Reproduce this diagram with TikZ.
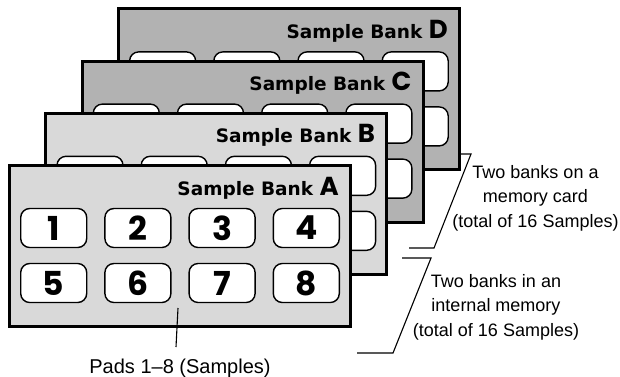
\documentclass[tikz,border=0pt]{standalone}
\usepackage{fontspec}
\setmainfont{Liberation Sans}
\newfontfamily\bankfont{DejaVu Sans}
\newfontfamily\padfont{Poppins}
\usepackage{tikz}
\usetikzlibrary{calc, positioning}
\definecolor{lightbank}{gray}{0.85}
\definecolor{darkbank}{gray}{0.70}

\begin{document}
\begin{tikzpicture}[
    x=1pt, y=-1pt,
    every node/.style={font=\fontsize{18}{24.5}\selectfont},
    bank/.style={draw, line width=3pt, minimum width=341pt, minimum height=161pt,
                 inner sep=0pt},
    pad/.style={draw, fill=white, line width=1.4pt, rounded corners=9pt,
                minimum width=66pt, minimum height=39pt, inner sep=0pt,
                font=\padfont\bfseries\fontsize{33}{33}\selectfont},
    banktitle/.style={anchor=base east, inner sep=0pt,
                      font=\bankfont\bfseries\fontsize{18.5}{20}\selectfont},
    note/.style={align=center, inner sep=0pt},
    bracket/.style={line width=1.1pt},
]
  \useasboundingbox (0,0) rectangle (620,376);

  % back banks D, C, B
  \foreach \b/\k/\shade in {D/3/darkbank, C/2/darkbank, B/1/lightbank} {
    \node[bank, fill=\shade] (bank\b) at ($(180,246)+\k*(36.3,-52.2)$) {};
    \foreach \n/\px/\py in {1/-126.3/-18, 2/-42.1/-18, 3/42.1/-18, 4/126.3/-18,
                            5/-126.3/37, 6/-42.1/37, 7/42.1/37, 8/126.3/37}
      \node[pad] (pad\b\n) at ($(bank\b.center)+(\px,\py)$) {};
    \node[banktitle] (title\b) at ($(bank\b.center)+(159,-51)$)
         {Sample Bank {\padfont\fontsize{26}{26}\selectfont\b}};
  }

  % front bank A with pads 1-8
  \node[bank, fill=lightbank] (bankA) at (180,246) {};
  \foreach \n/\px/\py in {1/-126.3/-18, 2/-42.1/-18, 3/42.1/-18, 4/126.3/-18,
                          5/-126.3/37, 6/-42.1/37, 7/42.1/37, 8/126.3/37}
    \node[pad] (padA\n) at ($(bankA.center)+(\px,\py)$) {\n};
  \node[banktitle] (titleA) at ($(bankA.center)+(159,-51)$)
       {Sample Bank {\padfont\fontsize{26}{26}\selectfont A}};

  % notes
  \node[note] (cardnote) at (535.5,198) {Two banks on a\\memory card\\(total of 16 Samples)};
  \node[note] (internalnote) at (496,307) {Two banks in an\\internal memory\\(total of 16 Samples)};
  \node[note, anchor=base, font=\fontsize{20}{24}\selectfont] (padsnote) at (180,373)
       {Pads 1--8 (Samples)};

  \coordinate (cardtop) at (461,154);
  \coordinate (cardbend) at (471,154);
  \coordinate (cardfoot) at (434,248);
  \coordinate (cardend) at (409,248);
  \draw[bracket] (cardtop) -- (cardbend) -- (cardfoot) -- (cardend);

  \coordinate (inttop) at (402,258);
  \coordinate (intbend) at (431,258);
  \coordinate (intfoot) at (393,353);
  \coordinate (intend) at (357,353);
  \draw[bracket] (inttop) -- (intbend) -- (intfoot) -- (intend);

  \coordinate (padsptr) at (178,308);
  \coordinate (padsend) at (176,347);
  \draw[bracket] (padsptr) -- (padsend);
\end{tikzpicture}
\end{document}
